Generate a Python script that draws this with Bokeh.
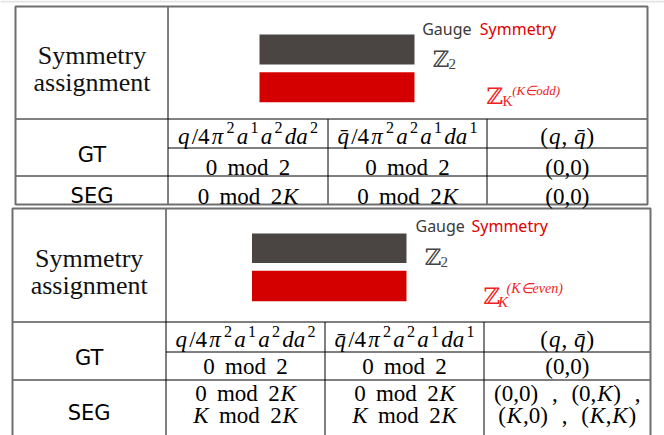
from bokeh.plotting import figure
from bokeh.models import Range1d, ColumnDataSource
from bokeh.core.properties import value
from bokeh.embed import file_html
from bokeh.resources import INLINE

# ---------------- data ----------------
assignment_label = ["Symmetry", "assignment"]
row_labels = ["GT", "SEG"]
legend_words = ["Gauge", "Symmetry"]
group_base = "\u2124"              # double-struck Z
group_subscripts = ["2", "K"]
k_parity = ["odd", "even"]
charge_headers = ["{q}/4{\u03c0}^2{a}^1{a}^2{da}^2",
                  "{q\u0304}/4{\u03c0}^2{a}^2{a}^1{da}^1",
                  "({q}, {q\u0304})"]
gt_values = ["0 mod 2", "0 mod 2", "(0,0)"]
seg_values_odd = [["0 mod 2{K}"], ["0 mod 2{K}"], ["(0,0)"]]
seg_values_even = [["0 mod 2{K}", "{K} mod 2{K}"],
                   ["0 mod 2{K}", "{K} mod 2{K}"],
                   ["(0,0) , (0,{K}) ,", "({K},0) , ({K},{K})"]]
seg_values = [seg_values_odd, seg_values_even]

# ---------------- styles / layout ----------------
SERIF = "Liberation Serif"
SANS = "DejaVu Sans"
LEG = "Noto Sans"
DARK_BAR = "#4a4443"
RED_BAR = "#d40000"
RED_TXT = "#e00000"
RED_Z = "#f22020"
GRAY_TXT = "#3a3a3a"
BORDER = "#6e6e6e"
FS = 23

W, H = 664, 435

TABLES = [
    dict(left=15, right=647, top=6, bottom=204,
         cols=[167.5, 327.5, 486.5], rows=[118.5, 147.5, 175.5],
         label_x=91.5, label_y=[54.5, 81.7], gt_y=154.5, seg_y=195.7,
         head_y=135.7, gt_val_y=167, seg_val_y=[196],
         gauge_x=421.7, sym_x=479.3, legend_y=28.3,
         bar_x=(259, 414), bar_y=[(34, 64), (71.7, 101.7)],
         z2=(432, 58.3, 448, 63), zk=(485.7, 95, 502, 100.5, 511.7, 90),
         k_italic=False, k_size=14, sup_size=13),
    dict(left=12, right=650, top=208, bottom=445,
         cols=[165.5, 324.5, 483.5], rows=[321.5, 351.5, 379.5],
         label_x=88.7, label_y=[258, 285], gt_y=357.3, seg_y=412,
         head_y=339, gt_val_y=366, seg_val_y=[393.3, 415],
         gauge_x=415, sym_x=471, legend_y=225.5,
         bar_x=(251.5, 406), bar_y=[(233, 262.5), (270.3, 300.7)],
         z2=(424, 256.7, 440, 261.7), zk=(482.7, 295.7, 497.5, 301.7, 506, 288.3),
         k_italic=True, k_size=15, sup_size=14),
]

ROMAN_W = {'m': .778, 'o': .5, 'd': .5, '(': .333, ')': .333, ',': .25, 'K': .722, '/': .278}
ITALIC_W = {'q': .5, 'a': .5, 'd': .5, 'K': .667, '\u03c0': .55, 'e': .444, 'v': .444,
            'n': .5, 'o': .5, '(': .333, ')': .333, ',': .25, '/': .278, '\u0304': 0.0}


def parse(s):
    runs = []
    italic = False
    i = 0
    while i < len(s):
        c = s[i]
        if c == '{':
            italic = True; i += 1; continue
        if c == '}':
            italic = False; i += 1; continue
        if c == ' ':
            runs.append(None); i += 1; continue
        sup = False
        if c == '^':
            sup = True; i += 1; c = s[i]
        if c == '\u0304' and runs and runs[-1] is not None:
            runs[-1][0] += c; i += 1; continue
        if runs and runs[-1] is not None and runs[-1][1] == italic and runs[-1][2] == sup:
            runs[-1][0] += c
        else:
            runs.append([c, italic, sup])
        i += 1
    return runs


def width_of(text, italic, size):
    tab = ITALIC_W if italic else ROMAN_W
    return sum(tab.get(ch, .5) for ch in text) * size


T = dict(x=[], y=[], text=[], font=[], size=[], style=[], color=[])


def put(x, y, text, font, size, style="normal", color="black"):
    T["x"].append(x); T["y"].append(y); T["text"].append(text)
    T["font"].append(font); T["size"].append("%.1fpx" % size)
    T["style"].append(style); T["color"].append(color)


def rich(s, cx, y, size=22, gap=0.6, pad=0.0):
    runs = parse(s)
    items = []
    prev = None
    for r in runs:
        if r is None:
            items.append(("gap", gap * size)); prev = None; continue
        text, it, sup = r
        sz = size * 0.7 if sup else size
        w = width_of(text, it, sz)
        if prev is not None:
            items.append(("gap", pad))
        items.append(("run", text, it, sup, sz, w))
        prev = r
    total = sum(i[1] if i[0] == "gap" else i[5] for i in items)
    x = cx - total / 2.0
    for i in items:
        if i[0] == "gap":
            x += i[1]
        else:
            _, text, it, sup, sz, w = i
            yy = y - 0.36 * size if sup else y
            put(x, yy, text, SERIF, sz, "italic" if it else "normal")
            x += w


p = figure(width=W, height=H, x_range=Range1d(0, W), y_range=Range1d(H, 0),
           output_backend="svg", toolbar_location=None, x_axis_type=None, y_axis_type=None,
           min_border=0, outline_line_color=None, background_fill_color="white")

# faint rule at the very top of the page
p.segment(x0=[0], y0=[1], x1=[W], y1=[1], line_color="#e4e4e4", line_width=2)

for t_i, tb in enumerate(TABLES):
    L, R, TOP, B = tb["left"], tb["right"], tb["top"], tb["bottom"]
    c = tb["cols"]; r = tb["rows"]
    # inner grid lines
    x0 = [c[0], c[1], c[2], L, c[0], L]
    x1 = [c[0], c[1], c[2], R, R, R]
    y0 = [TOP, r[0], r[0], r[0], r[1], r[2]]
    y1 = [B, B, B, r[0], r[1], r[2]]
    p.segment(x0=x0, y0=y0, x1=x1, y1=y1, line_color="black", line_width=1)
    # outer border
    p.quad(left=[L], right=[R], top=[TOP], bottom=[B], fill_color=None,
           line_color=BORDER, line_width=2)

    # symmetry assignment label
    for k, word in enumerate(assignment_label):
        p.text(x=[tb["label_x"]], y=[tb["label_y"][k]], text=[word], text_font=value(SERIF),
               text_font_size="26px", text_align="center", text_baseline="alphabetic",
               text_color="#111111")
    # row labels
    p.text(x=[tb["label_x"]] * 2, y=[tb["gt_y"], tb["seg_y"]], text=row_labels,
           text_font=value(SANS), text_font_size="21px", text_align="center",
           text_baseline="alphabetic", text_color="black")

    # legend: bars and words
    bx = tb["bar_x"]
    p.quad(left=[bx[0]] * 2, right=[bx[1]] * 2,
           top=[tb["bar_y"][0][0], tb["bar_y"][1][0]],
           bottom=[tb["bar_y"][0][1], tb["bar_y"][1][1]],
           fill_color=[DARK_BAR, RED_BAR], line_color=None)
    put(tb["gauge_x"], tb["legend_y"], legend_words[0], LEG, 16, "normal", GRAY_TXT)
    put(tb["sym_x"], tb["legend_y"], legend_words[1], LEG, 16, "normal", RED_TXT)

    zx, zy, sx, sy = tb["z2"]
    put(zx, zy, group_base, "DejaVu Serif", 23, "normal", "#444444")
    put(sx, sy, group_subscripts[0], SERIF, 15, "normal", "#444444")
    zx, zy, kx, ky, px_, py_ = tb["zk"]
    put(zx, zy, group_base, "DejaVu Serif", 23, "normal", RED_Z)
    put(kx, ky, group_subscripts[1], SERIF, tb["k_size"],
        "italic" if tb["k_italic"] else "normal", RED_Z)
    put(px_, py_, "(K\u2208%s)" % k_parity[t_i], SERIF, tb["sup_size"], "italic", RED_Z)

    centers = [(c[0] + c[1]) / 2, (c[1] + c[2]) / 2, (c[2] + R) / 2]
    for j in range(3):
        rich(charge_headers[j], centers[j], tb["head_y"], size=FS,
             gap=0.3, pad=2.2 if j < 2 else 1.0)
        rich(gt_values[j], centers[j], tb["gt_val_y"], size=FS, gap=0.45, pad=0.5)
        for line_k, s in enumerate(seg_values[t_i][j]):
            g = 0.6 if (j == 2 and len(seg_values[t_i][j]) > 1) else 0.45
            rich(s, centers[j], tb["seg_val_y"][line_k], size=FS, gap=g, pad=0.8)

src = ColumnDataSource(T)
p.text(x="x", y="y", text="text", source=src, text_font="font", text_font_size="size",
       text_font_style="style", text_color="color", text_align="left",
       text_baseline="alphabetic")

open("out.html", "w").write(file_html(p, INLINE))
